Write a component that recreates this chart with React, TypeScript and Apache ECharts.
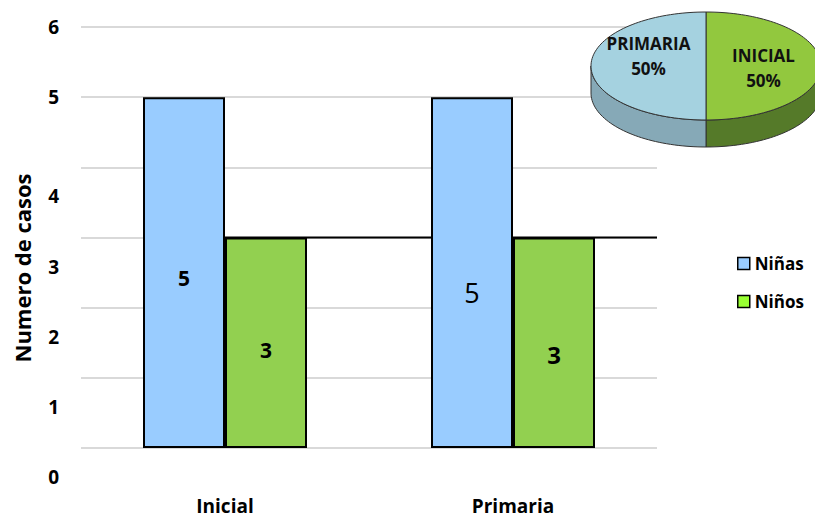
import React, { useEffect, useRef } from "react";
import * as echarts from "echarts";

const categories = ["Inicial", "Primaria"];
const ninas = [5, 5];
const ninos = [3, 3];
const seriesNames = ["Niñas", "Niños"];
const yMin = 0;
const yMax = 6;
const yInterval = 1;
// reference line at value 3 (in units of the hidden value x axis: 0..categories.length)
const refLineX = [0.5, 2];
const refLineY = [3, 3];
const pieNames = ["INICIAL", "PRIMARIA"];
const pieValues = [50, 50];

const FONT = "'Open Sans', 'Noto Sans', sans-serif";

const ninasLabelStyles = [
  { fontSize: 21, fontWeight: "bold", offset: [0, 5] },
  { fontSize: 27, fontWeight: "normal", offset: [0, 20] },
];
const ninosLabelStyles = [
  { fontSize: 21, fontWeight: "bold", offset: [0, 7] },
  { fontSize: 24, fontWeight: "bold", offset: [0, 12] },
];

const pieTop = ["#92c83e", "#a5d2e0"];
const pieSide = ["#557a29", "#86a9b7"];
const pieLabelDy = [2, -10];

export default function App() {
  const ref = useRef<HTMLDivElement>(null);
  useEffect(() => {
    if (!ref.current) return;
    const chart = echarts.init(ref.current, null, { renderer: "svg" });
    const cx = 706, cy = 66, rx = 115, ry = 54, depth = 27;
    const total = pieValues.reduce((a, b) => a + b, 0);

    const option: any = {
      animation: false,
      textStyle: { fontFamily: FONT },
      grid: { left: 81, right: 158, top: 27, bottom: 70 },
      legend: {
        orient: "vertical",
        left: 732,
        top: 250,
        itemGap: 21,
        itemWidth: 12,
        itemHeight: 12,
        icon: "rect",
        textStyle: { fontSize: 17, fontWeight: "bold", color: "#000", fontFamily: FONT },
        data: [
          { name: seriesNames[0], itemStyle: { color: "#99ccff", borderColor: "#000", borderWidth: 1.5 } },
          { name: seriesNames[1], itemStyle: { color: "#99ff33", borderColor: "#000", borderWidth: 1.5 } },
        ],
      },
      xAxis: [
        {
          type: "category",
          data: categories,
          axisLine: { show: false },
          axisTick: { show: false },
          axisLabel: { margin: 48, fontSize: 19, fontWeight: "bold", color: "#000", fontFamily: FONT },
        },
        { type: "value", min: 0, max: categories.length, show: false },
      ],
      yAxis: {
        type: "value",
        min: yMin,
        max: yMax,
        interval: yInterval,
        axisLine: { show: false },
        axisTick: { show: false },
        splitLine: { lineStyle: { color: "#d9d9d9", width: 2 } },
        axisLabel: {
          margin: 22,
          color: "#000",
          formatter: (v: number) => (v >= 5 ? `{a|${v}}` : `{b|${v}}`),
          rich: {
            a: { fontSize: 19, fontWeight: "bold", color: "#000", fontFamily: FONT },
            b: { fontSize: 19, fontWeight: "bold", color: "#000", fontFamily: FONT, padding: [58, 0, 0, 0] },
          },
        },
      },
      graphic: [
        {
          type: "text",
          x: 22,
          y: 268,
          rotation: Math.PI / 2,
          style: {
            text: "Numero de casos",
            fontSize: 22,
            fontWeight: "bold",
            fontFamily: FONT,
            fill: "#000",
            align: "center",
            verticalAlign: "middle",
          },
        },
      ],
      series: [
        {
          type: "line",
          xAxisIndex: 1,
          data: refLineX.map((x, i) => [x, refLineY[i]]),
          symbol: "none",
          lineStyle: { color: "#000", width: 2 },
          z: 1,
          silent: true,
        },
        {
          name: seriesNames[0],
          type: "bar",
          barWidth: 82,
          barGap: "0%",
          z: 3,
          itemStyle: { color: "#99ccff", borderColor: "#000", borderWidth: 2 },
          label: { show: true, position: "inside", color: "#000", fontFamily: FONT },
          data: ninas.map((v, i) => ({ value: v, label: ninasLabelStyles[i] })),
        },
        {
          name: seriesNames[1],
          type: "bar",
          barWidth: 82,
          barGap: "0%",
          z: 3,
          itemStyle: { color: "#92d050", borderColor: "#000", borderWidth: 2 },
          label: { show: true, position: "inside", color: "#000", fontFamily: FONT },
          data: ninos.map((v, i) => ({ value: v, label: ninosLabelStyles[i] })),
        },
        {
          type: "custom",
          name: "pie",
          coordinateSystem: "none",
          silent: true,
          z: 5,
          data: pieValues,
          renderItem: (params: any, api: any) => {
            const idx = params.dataIndex;
            const v = api.value(0);
            const before = pieValues.slice(0, idx).reduce((a, b) => a + b, 0);
            const start = -Math.PI / 2 + (before / total) * 2 * Math.PI;
            const end = start + (v / total) * 2 * Math.PI;
            const pt = (t: number, dy = 0) => [cx + rx * Math.cos(t), cy + ry * Math.sin(t) + dy];
            const arc = (a: number, b: number, dy = 0) => {
              const n = Math.max(2, Math.ceil((b - a) / (Math.PI / 90)));
              const pts: number[][] = [];
              for (let i = 0; i <= n; i++) pts.push(pt(a + ((b - a) * i) / n, dy));
              return pts;
            };
            const children: any[] = [];
            const ranges = [
              [0, Math.PI],
              [2 * Math.PI, 3 * Math.PI],
              [-2 * Math.PI, -Math.PI],
            ];
            for (const r of ranges) {
              const a = Math.max(start, r[0]);
              const b = Math.min(end, r[1]);
              if (b > a) {
                children.push({
                  type: "polygon",
                  shape: { points: [...arc(a, b), ...arc(a, b, depth).reverse()] },
                  style: { fill: pieSide[idx], stroke: "#333", lineWidth: 1 },
                });
              }
            }
            children.push({
              type: "polygon",
              shape: { points: [[cx, cy], ...arc(start, end)] },
              style: { fill: pieTop[idx], stroke: "#333", lineWidth: 1 },
            });
            const mid = (start + end) / 2;
            children.push({
              type: "text",
              x: cx + 0.5 * rx * Math.cos(mid),
              y: cy + 0.5 * ry * Math.sin(mid) + pieLabelDy[idx],
              style: {
                text: `${pieNames[idx]}\n${Math.round((v / total) * 100)}%`,
                fontSize: 17,
                fontWeight: "bold",
                fontFamily: FONT,
                lineHeight: 25,
                fill: "#111",
                align: "center",
                verticalAlign: "middle",
              },
            });
            return { type: "group", children };
          },
        },
      ],
    };
    chart.setOption(option);
    return () => chart.dispose();
  }, []);
  return (
    <div
      ref={ref}
      style={{ position: "fixed", left: 0, top: 0, width: 815, height: 518, background: "#fff" }}
    />
  );
}
